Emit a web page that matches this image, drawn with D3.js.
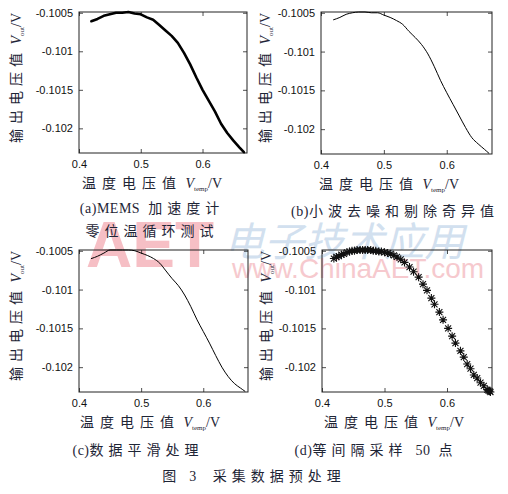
<!DOCTYPE html>
<html>
<head>
<meta charset="utf-8">
<script src="https://cdn.jsdelivr.net/npm/d3@7"></script>
<style>
  html, body { margin: 0; padding: 0; background: #fff; }
  svg { display: block; }
  .tick-label { font-family: "Liberation Sans", Arial, sans-serif; font-size: 11px; fill: #111; }
  .cn { font-family: "Liberation Serif", "Noto Sans CJK SC", serif; font-size: 14px; fill: #1e2536; }
</style>
</head>
<body>
<svg id="fig" width="508" height="494"></svg>
<script>
// x values of the continuous curves (temperature voltage, V)
var tempX = [0.42, 0.43, 0.44, 0.45, 0.46, 0.47, 0.48, 0.49, 0.50, 0.51, 0.52, 0.53, 0.54,
             0.55, 0.56, 0.57, 0.58, 0.59, 0.60, 0.61, 0.62, 0.63, 0.64, 0.65, 0.66, 0.667];

// (a) raw zero-bias cycle test
var outA = [-0.10061, -0.10058, -0.10054, -0.10052, -0.10050, -0.10050, -0.10049, -0.10051, -0.10052,
            -0.10056, -0.10059, -0.10066, -0.10073, -0.10080, -0.10089, -0.10102, -0.10117, -0.10134,
            -0.10150, -0.10164, -0.10178, -0.10194, -0.10206, -0.10216, -0.10225, -0.10231];

// (b) wavelet de-noised, outliers removed
var outB = [-0.10059, -0.10056, -0.10052, -0.10050, -0.10049, -0.10049, -0.10050, -0.10050, -0.10053,
            -0.10056, -0.10060, -0.10065, -0.10074, -0.10082, -0.10091, -0.10103, -0.10119, -0.10137,
            -0.10153, -0.10168, -0.10183, -0.10198, -0.10211, -0.10219, -0.10226, -0.10231];

// (c) smoothed
var outC = [-0.10060, -0.10057, -0.10053, -0.10049, -0.10049, -0.10049, -0.10049, -0.10050, -0.10053,
            -0.10056, -0.10060, -0.10066, -0.10076, -0.10086, -0.10095, -0.10107, -0.10122, -0.10139,
            -0.10154, -0.10169, -0.10185, -0.10200, -0.10212, -0.10221, -0.10227, -0.10231];

// (d) 50 equally spaced samples
var sampleX = [0.419, 0.423, 0.427, 0.431, 0.435, 0.440, 0.444, 0.448, 0.452, 0.456,
               0.461, 0.465, 0.469, 0.473, 0.478, 0.482, 0.486, 0.491, 0.495, 0.500,
               0.505, 0.510, 0.515, 0.520, 0.526, 0.532, 0.540, 0.5465, 0.5546, 0.5616,
               0.568, 0.575, 0.580, 0.5878, 0.5937, 0.6018, 0.6082, 0.6135, 0.6215, 0.6268,
               0.6323, 0.6376, 0.6429, 0.6483, 0.6536, 0.6589, 0.6644, 0.6660, 0.6680, 0.6695];
var sampleY = [-0.10060, -0.10058, -0.10057, -0.10055, -0.10054, -0.10052, -0.10051, -0.10050, -0.10050, -0.10049,
               -0.10049, -0.10049, -0.10049, -0.10049, -0.10049, -0.10050, -0.10050, -0.10051, -0.10051, -0.10052,
               -0.10053, -0.10054, -0.10056, -0.10058, -0.10061, -0.10065, -0.10071, -0.10077, -0.10084, -0.10093,
               -0.10101, -0.10111, -0.10119, -0.10129, -0.10139, -0.10150, -0.10160, -0.10169, -0.10179, -0.10187,
               -0.10196, -0.10202, -0.10210, -0.10214, -0.10220, -0.10224, -0.10229, -0.10230, -0.10231, -0.10232];

var xTicks = [0.4, 0.5, 0.6];
var yTicks = [-0.1005, -0.101, -0.1015, -0.102];
var yTickLabels = ["-0.1005", "-0.101", "-0.1015", "-0.102"];

var xDomain = [0.4, 0.672];
var yDomain = [-0.10232, -0.10049];

var svg = d3.select("#fig");

// writes a mixed Chinese / Latin string: Chinese runs get wide spacing, Latin stays tight
var mixedText = function(sel, str, cnSpacing) {
  var runs = str.match(/[\u4e00-\u9fff]+|[^\u4e00-\u9fff]+/g);
  runs.forEach(function(r) {
    var cn = /[\u4e00-\u9fff]/.test(r);
    sel.append("tspan")
      .style("letter-spacing", cn ? cnSpacing + "px" : "0.5px")
      .text(cn ? r : r.replace(/ /g, "\u00a0\u00a0"));
  });
};

// watermark (drawn first, sits behind the panels)
var wm = svg.append("g").attr("class", "watermark");
wm.append("text").attr("x", 86).attr("y", 267)
  .style("font-family", "Liberation Sans, Arial, sans-serif").style("font-weight", "bold")
  .style("font-size", "64px").style("fill", "#f4b0b7").style("opacity", 0.8)
  .text("AET");
wm.append("text").attr("x", 226).attr("y", 256)
  .attr("transform", "skewX(-14) translate(62,0)")
  .style("font-family", "Noto Sans CJK SC, sans-serif")
  .style("font-size", "40px").style("fill", "#c3d6ea").style("opacity", 0.75)
  .text("电子技术应用");
wm.append("text").attr("x", 232).attr("y", 278)
  .style("font-family", "Liberation Sans, Arial, sans-serif")
  .style("font-size", "28px").style("fill", "#f5bcc2").style("opacity", 0.8)
  .text("www.ChinaAET.com");

var drawPanel = function(box, kind, ys) {
  var x = d3.scaleLinear().domain(xDomain).range([box.left, box.left + box.w]);
  var y = d3.scaleLinear().domain(yDomain).range([box.top + box.h, box.top]);
  var g = svg.append("g");

  // bottom / left axes with inward ticks, labels on the outside
  var xAxis = d3.axisBottom(x).tickValues(xTicks).tickSize(-4).tickPadding(7).tickFormat(d3.format(".1f"));
  var yAxis = d3.axisLeft(y).tickValues(yTicks).tickSize(-4).tickPadding(6)
    .tickFormat(function(d, i) { return yTickLabels[i]; });
  var gx = g.append("g").attr("transform", "translate(0," + (box.top + box.h) + ")").call(xAxis);
  var gy = g.append("g").attr("transform", "translate(" + box.left + ",0)").call(yAxis);
  // mirrored ticks on top and right
  var gx2 = g.append("g").attr("transform", "translate(0," + box.top + ")")
    .call(d3.axisTop(x).tickValues(xTicks).tickSize(-4).tickFormat(""));
  var gy2 = g.append("g").attr("transform", "translate(" + (box.left + box.w) + ",0)")
    .call(d3.axisRight(y).tickValues(yTicks).tickSize(-4).tickFormat(""));
  [gx, gy, gx2, gy2].forEach(function(a) {
    a.select(".domain").remove();
    a.selectAll("line").attr("stroke", "#222").attr("stroke-width", 0.8);
    a.selectAll("text").attr("class", "tick-label").attr("fill", null);
  });
  gx.selectAll("text").attr("dy", "0.71em");

  g.append("rect")
    .attr("x", box.left).attr("y", box.top).attr("width", box.w).attr("height", box.h)
    .attr("fill", "none").attr("stroke", "#222").attr("stroke-width", 1);

  if (kind === "points") {
    var star = "M-4,0L4,0M0,-4L0,4M-3,-3L3,3M-3,3L3,-3";
    g.selectAll("path.star").data(sampleX).enter().append("path")
      .attr("class", "star")
      .attr("transform", function(d, i) { return "translate(" + x(d) + "," + y(sampleY[i]) + ")"; })
      .attr("d", star)
      .attr("stroke", "#111").attr("stroke-width", 1.1).attr("fill", "none");
  } else {
    var line = d3.line()
      .x(function(d, i) { return x(tempX[i]); })
      .y(function(d) { return y(d); })
      .curve(kind === "thick" ? d3.curveLinear : d3.curveMonotoneX);
    g.append("path").datum(ys).attr("d", line)
      .attr("fill", "none").attr("stroke", "#000")
      .attr("stroke-width", kind === "thick" ? 2.6 : 1)
      .attr("stroke-linejoin", "round").attr("stroke-linecap", "round");
  }

  // x label: 温度电压值 V_temp/V
  var xl = svg.append("text").attr("class", "cn").attr("text-anchor", "middle")
    .attr("x", box.xLabelX).attr("y", box.top + box.h + 35);
  xl.append("tspan").style("letter-spacing", "6px").text("温度电压值");
  xl.append("tspan").style("font-style", "italic").style("font-family", "Liberation Serif, serif").text("\u00a0V");
  xl.append("tspan").attr("dy", 3).style("font-size", "7px").text("temp");
  xl.append("tspan").attr("dy", -3).style("font-family", "Liberation Serif, serif").text("/V");

  // y label: 输出电压值 V_out/V
  var yl = svg.append("text").attr("class", "cn").attr("text-anchor", "middle")
    .attr("transform", "translate(" + box.yLabelX + "," + (box.top + 66) + ") rotate(-90)");
  yl.append("tspan").style("letter-spacing", "5px").text("输出电压值");
  yl.append("tspan").style("font-style", "italic").style("font-family", "Liberation Serif, serif").text("\u00a0V");
  yl.append("tspan").attr("dy", 3).style("font-size", "7px").text("out");
  yl.append("tspan").attr("dy", -3).style("font-family", "Liberation Serif, serif").text("/V");
};

drawPanel({ left: 79, top: 12, w: 168, h: 141, xLabelX: 152, yLabelX: 21 }, "thick", outA);
drawPanel({ left: 321, top: 12, w: 171, h: 142, xLabelX: 389, yLabelX: 270 }, "thin", outB);
drawPanel({ left: 79, top: 250, w: 169, h: 142, xLabelX: 150, yLabelX: 21 }, "thin", outC);
drawPanel({ left: 322, top: 250, w: 170, h: 142, xLabelX: 394, yLabelX: 271 }, "points", null);

// captions
var captions = [
  { x: 152, y: 213, t: "(a)MEMS 加速度计" },
  { x: 152, y: 236, t: "零位温循环测试" },
  { x: 395, y: 216, t: "(b)小波去噪和剔除奇异值" },
  { x: 138, y: 455, t: "(c)数据平滑处理" },
  { x: 376, y: 455, t: "(d)等间隔采样 50 点" },
  { x: 254, y: 481, t: "图 3  采集数据预处理" }
];
captions.forEach(function(c) {
  var t = svg.append("text").attr("class", "cn caption").attr("text-anchor", "middle")
    .attr("x", c.x).attr("y", c.y);
  mixedText(t, c.t, 5);
});
</script>
</body>
</html>
